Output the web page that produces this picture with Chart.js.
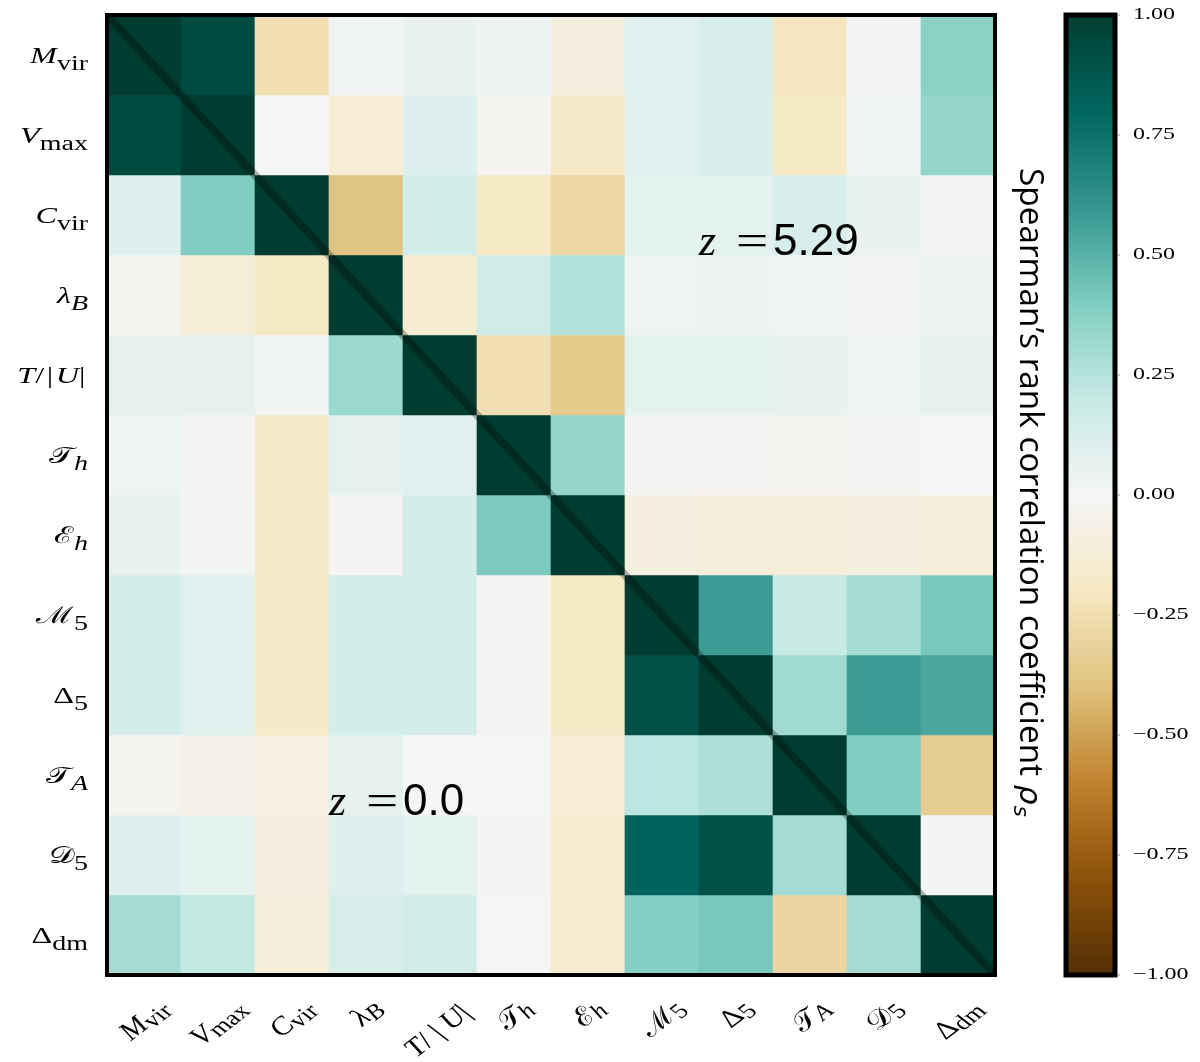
<!DOCTYPE html>
<html>
<head>
<meta charset="utf-8">
<script src="https://cdn.jsdelivr.net/npm/chart.js@4.4.0/dist/chart.umd.min.js"></script>
<style>
  html, body { margin: 0; padding: 0; background: #ffffff; }
  #wrap { position: relative; width: 1200px; height: 1062px; overflow: hidden; }
  #mainBox { position: absolute; left: 0; top: 0; width: 1200px; height: 1062px; }
  #cbBox { position: absolute; left: 1000px; top: 0; width: 200px; height: 1062px; }
</style>
</head>
<body>
<div id="wrap">
  <div id="mainBox"><canvas id="main"></canvas></div>
  <div id="cbBox"><canvas id="cb"></canvas></div>
</div>
<script>
// ---------------- DATA ----------------
// Variables (rows/columns). "_" separates the subscript.
const categories = ['M_vir', 'V_max', 'C_vir', 'λ_B', 'T/|U|', '𝒯_h', 'ℰ_h', 'ℳ_5', 'Δ_5', '𝒯_A', '𝒟_5', 'Δ_dm'];

// Spearman rank correlation, one row per variable
// (lower triangle: z = 0.0, upper triangle: z = 5.29, diagonal = 1)
const rowMvir   = [ 1.00,  0.93, -0.25,  0.02,  0.05,  0.04, -0.09,  0.09,  0.13, -0.21,  0.01,  0.37];
const rowVmax   = [ 0.93,  1.00,  0.00, -0.13,  0.10, -0.02, -0.18,  0.09,  0.13, -0.19,  0.03,  0.34];
const rowCvir   = [ 0.10,  0.40,  1.00, -0.39,  0.15, -0.19, -0.29,  0.08,  0.08,  0.13,  0.05, -0.01];
const rowLambda = [-0.03, -0.12, -0.19,  1.00, -0.14,  0.16,  0.26,  0.03,  0.04,  0.02,  0.01,  0.04];
const rowTU     = [ 0.07,  0.07,  0.02,  0.32,  1.00, -0.25, -0.36,  0.08,  0.08,  0.06,  0.03,  0.07];
const rowTh     = [ 0.03, -0.01, -0.18,  0.07,  0.09,  1.00,  0.34, -0.01, -0.01, -0.02, -0.01,  0.00];
const rowEh     = [ 0.06,  0.01, -0.18, -0.01,  0.15,  0.41,  1.00, -0.09, -0.11, -0.11, -0.09, -0.11];
const rowM5     = [ 0.15,  0.09, -0.17,  0.15,  0.15, -0.01, -0.19,  1.00,  0.58,  0.20,  0.30,  0.42];
const rowD5     = [ 0.15,  0.09, -0.17,  0.15,  0.15, -0.01, -0.19,  0.90,  1.00,  0.31,  0.58,  0.54];
const rowTA     = [-0.03, -0.06, -0.08,  0.07,  0.00,  0.00, -0.13,  0.23,  0.27,  1.00,  0.40, -0.34];
const rowDist5  = [ 0.10,  0.08, -0.09,  0.10,  0.08, -0.01, -0.15,  0.81,  0.90,  0.30,  1.00,  0.01];
const rowDdm    = [ 0.30,  0.21, -0.10,  0.13,  0.16,  0.00, -0.15,  0.39,  0.42, -0.30,  0.30,  1.00];

// Colour bar ticks and text
const colorbarTicks = [-1, -0.75, -0.5, -0.25, 0, 0.25, 0.5, 0.75, 1];
const colorbarTitle = 'Spearman’s rank correlation coefficient ';
const redshiftLabels = ['5.29', '0.0'];

const rows = [rowMvir, rowVmax, rowCvir, rowLambda, rowTU, rowTh, rowEh, rowM5, rowD5, rowTA, rowDist5, rowDdm];

// ---------------- COLOUR MAP (BrBG) ----------------
const BRBG = ['#543005','#8c510a','#bf812d','#dfc27d','#f6e8c3','#f5f5f5','#c7eae5','#80cdc1','#35978f','#01665e','#003c30'];
const BRBG_RGB = BRBG.map(h => [parseInt(h.slice(1,3),16), parseInt(h.slice(3,5),16), parseInt(h.slice(5,7),16)]);
function brbg(v) {
  let t = (Math.max(-1, Math.min(1, v)) + 1) / 2 * 10;
  let k = Math.min(9, Math.floor(t));
  const f = t - k;
  const a = BRBG_RGB[k], b = BRBG_RGB[k + 1];
  const c = a.map((x, n) => Math.round(x + (b[n] - x) * f));
  return `rgb(${c[0]},${c[1]},${c[2]})`;
}

// ---------------- TEXT HELPERS ----------------
const SX = 1.4;          // horizontal stretch of the math labels
const SERIF = '"Liberation Serif", "DejaVu Serif", serif';

function labelParts(label, mainSize, subSize, subDy, slashGap) {
  const [main, sub] = label.split('_');
  const parts = [];
  for (const ch of main) {
    const italic = /[A-Za-z]/.test(ch) || ch === 'λ';
    const gap = (ch === '/' || ch === '|') ? mainSize * slashGap : 0;
    parts.push({ t: ch, f: (italic ? 'italic ' : '') + mainSize + 'px ' + SERIF, dy: 0, gap });
  }
  if (sub) {
    const italicSub = sub.length === 1 && /[A-Za-z]/.test(sub);
    parts.push({ t: sub, f: (italicSub ? 'italic ' : '') + subSize + 'px ' + SERIF, dy: subDy, gap: 0 });
  }
  return parts;
}
function partsWidth(ctx, parts) {
  let w = 0;
  for (const p of parts) { ctx.font = p.f; w += ctx.measureText(p.t).width + p.gap; }
  return w;
}
function drawParts(ctx, parts) {
  let x = 0;
  for (const p of parts) { ctx.font = p.f; ctx.fillText(p.t, x, p.dy); x += ctx.measureText(p.t).width + p.gap; }
}

// ---------------- MAIN HEATMAP ----------------
const heatmapDecor = {
  id: 'heatmapDecor',
  afterDraw(chart) {
    const { ctx, chartArea: a, scales: { x, y } } = chart;
    ctx.save();
    ctx.fillStyle = '#000';
    ctx.textAlign = 'left';
    ctx.textBaseline = 'alphabetic';

    // y labels
    categories.forEach((lab, i) => {
      const parts = labelParts(lab, 23, 20, 7, 0.08);
      const w = partsWidth(ctx, parts);
      ctx.save();
      ctx.translate(a.left - 19, y.getPixelForValue(i) + 8);
      ctx.scale(SX, 1);
      ctx.translate(-w, 0);
      drawParts(ctx, parts);
      ctx.restore();
    });

    // x labels (rotated 45 deg, centred on column, top aligned)
    categories.forEach((lab, j) => {
      const parts = labelParts(lab, 25, 21, 3, 0.25);
      const w = partsWidth(ctx, parts);
      const h = 21;
      const bb = (w + h) / Math.SQRT2;
      ctx.save();
      ctx.translate(x.getPixelForValue(j), a.bottom + 22 + bb / 2);
      ctx.scale(1.3, 1);
      ctx.rotate(-Math.PI / 4);
      ctx.translate(-w / 2, h * 0.38);
      drawParts(ctx, parts);
      ctx.restore();
    });

    // redshift annotations
    const notes = [
      { text: redshiftLabels[0], px: x.getPixelForValue(7.5), py: y.getPixelForValue(2.5) },
      { text: redshiftLabels[1], px: x.getPixelForValue(2.5), py: y.getPixelForValue(9.5) }
    ];
    notes.forEach(n => {
      ctx.save();
      ctx.translate(n.px, n.py);
      ctx.font = 'italic 44px ' + SERIF;
      ctx.fillText('z', 0, 0);
      ctx.save();
      ctx.translate(37, 0);
      ctx.scale(1.3, 1);
      ctx.font = '44px ' + SERIF;
      ctx.fillText('=', 0, 0);
      ctx.restore();
      ctx.font = '44px "Liberation Sans", Arial, sans-serif';
      ctx.fillText(n.text, 74, 0);
      ctx.restore();
    });

    // frame
    ctx.lineWidth = 4;
    ctx.strokeStyle = '#000';
    ctx.strokeRect(a.left, a.top, a.right - a.left, a.bottom - a.top);
    ctx.restore();
  }
};

const cellDatasets = rows.map((vals, i) => ({
  type: 'bar',
  label: categories[i],
  data: vals.map((v, j) => ({ x: j, y: [i - 0.5, i + 0.5] })),
  backgroundColor: vals.map(brbg),
  borderWidth: 0,
  grouped: false,
  barPercentage: 1,
  categoryPercentage: 1,
  order: 1
}));

const diagonalDataset = {
  type: 'line',
  label: 'diagonal',
  data: [{ x: -0.5, y: -0.5 }, { x: categories.length - 0.5, y: categories.length - 0.5 }],
  borderColor: 'rgba(0,0,0,0.28)',
  borderWidth: 8,
  borderCapStyle: 'butt',
  pointRadius: 0,
  clip: 0,
  order: 0
};

new Chart(document.getElementById('main'), {
  type: 'bar',
  data: { datasets: [diagonalDataset, ...cellDatasets] },
  options: {
    responsive: true,
    maintainAspectRatio: false,
    animation: false,
    events: [],
    layout: { padding: { left: 107, top: 15, right: 205, bottom: 87 } },
    scales: {
      x: {
        type: 'linear', min: -0.5, max: categories.length - 0.5, offset: false, display: false,
        afterBuildTicks: s => { s.ticks = categories.map((_, j) => ({ value: j })); }
      },
      y: {
        type: 'linear', min: -0.5, max: categories.length - 0.5, reverse: true, display: false,
        afterBuildTicks: s => { s.ticks = categories.map((_, i) => ({ value: i })); }
      }
    },
    plugins: { legend: { display: false }, tooltip: { enabled: false } }
  },
  plugins: [heatmapDecor]
});

// ---------------- COLOUR BAR ----------------
const colorbarDecor = {
  id: 'colorbarDecor',
  afterDraw(chart) {
    const { ctx, chartArea: a, scales: { y } } = chart;
    ctx.save();
    // frame
    ctx.lineWidth = 5;
    ctx.strokeStyle = '#000';
    ctx.strokeRect(a.left, a.top, a.right - a.left, a.bottom - a.top);
    // ticks + labels
    ctx.fillStyle = '#000';
    ctx.textAlign = 'left';
    ctx.textBaseline = 'middle';
    y.ticks.forEach(t => {
      const py = y.getPixelForValue(t.value);
      ctx.strokeStyle = '#999';
      ctx.lineWidth = 1;
      ctx.beginPath();
      ctx.moveTo(a.right + 2.5, py);
      ctx.lineTo(a.right + 5, py);
      ctx.stroke();
      ctx.save();
      ctx.translate(a.right + 18, py);
      ctx.scale(1.5, 1);
      ctx.font = '16px ' + SERIF;
      ctx.fillText(t.value.toFixed(2).replace('-', '−'), 0, 0);
      ctx.restore();
    });
    // title (rotated, reading top to bottom)
    ctx.save();
    ctx.translate(a.left - 46, a.top + 153);
    ctx.rotate(Math.PI / 2);
    ctx.textBaseline = 'alphabetic';
    const fTitle = '32px "Open Sans", "Noto Sans", sans-serif';
    const fRho = 'italic 30px "DejaVu Sans", sans-serif';
    const fSub = 'italic 21px "DejaVu Sans", sans-serif';
    ctx.font = fTitle; const w1 = ctx.measureText(colorbarTitle).width;
    ctx.font = fRho; const w2 = ctx.measureText('ρ').width;
    ctx.font = fSub; const w3 = ctx.measureText('s').width;
    const total = w1 + w2 + w3 + 1;
    ctx.scale(649 / total, 1);
    ctx.font = fTitle; ctx.fillText(colorbarTitle, 0, 0);
    ctx.font = fRho; ctx.fillText('ρ', w1, 0);
    ctx.font = fSub; ctx.fillText('s', w1 + w2 + 1, 6);
    ctx.restore();
    ctx.restore();
  }
};

new Chart(document.getElementById('cb'), {
  type: 'bar',
  data: {
    labels: [''],
    datasets: [{
      data: [[colorbarTicks[0], colorbarTicks[colorbarTicks.length - 1]]],
      backgroundColor: c => {
        const ch = c.chart;
        if (!ch.chartArea) return '#f5f5f5';
        const ys = ch.scales.y;
        const g = ch.ctx.createLinearGradient(0, ys.getPixelForValue(-1), 0, ys.getPixelForValue(1));
        BRBG.forEach((col, k) => g.addColorStop(k / 10, col));
        return g;
      },
      borderWidth: 0,
      barPercentage: 1,
      categoryPercentage: 1
    }]
  },
  options: {
    responsive: true,
    maintainAspectRatio: false,
    animation: false,
    events: [],
    layout: { padding: { left: 66, top: 15, right: 85, bottom: 87 } },
    scales: {
      x: { display: false },
      y: {
        type: 'linear', min: -1, max: 1, display: false,
        afterBuildTicks: s => { s.ticks = colorbarTicks.map(v => ({ value: v })); }
      }
    },
    plugins: { legend: { display: false }, tooltip: { enabled: false } }
  },
  plugins: [colorbarDecor]
});
</script>
</body>
</html>
